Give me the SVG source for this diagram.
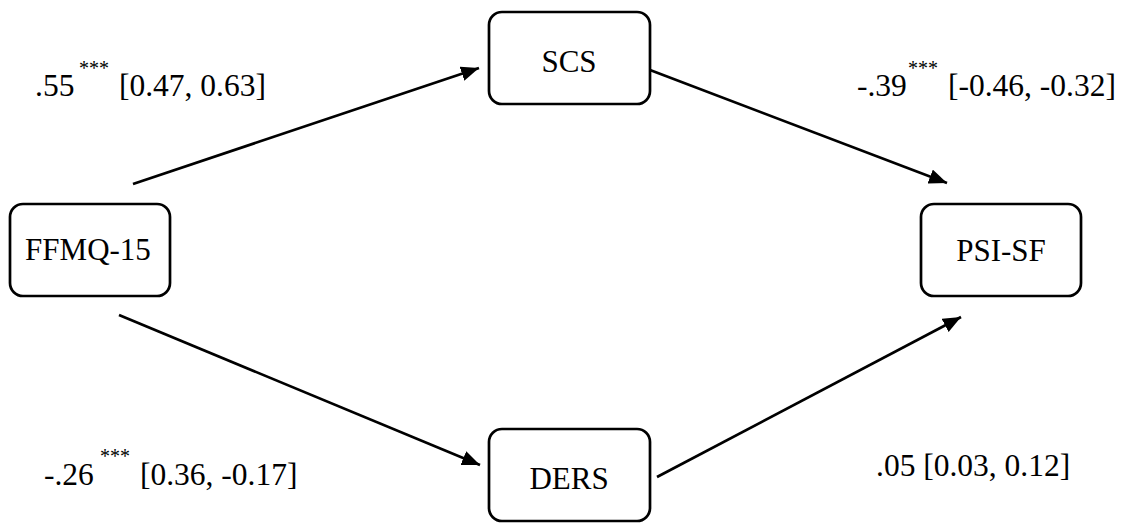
<svg xmlns="http://www.w3.org/2000/svg" width="1121" height="523" viewBox="0 0 1121 523">
<style>
.box{fill:#fff;stroke:#000;stroke-width:2.7}
.nt{font-family:"Liberation Serif","Times New Roman",serif;font-size:31px;fill:#000;text-anchor:middle}
.lb{font-family:"Liberation Serif","Times New Roman",serif;font-size:31.5px;fill:#000}
.st{font-family:"Liberation Serif","Times New Roman",serif;font-size:20px;fill:#000}
.cn{stroke:#000;stroke-width:2.7;fill:none;marker-end:url(#ah)}
</style>
<defs>
<marker id="ah" markerUnits="userSpaceOnUse" markerWidth="19" markerHeight="15" refX="18" refY="7.5" orient="auto">
<path d="M0,0 L18,7.5 L0,15 z" fill="#000"/>
</marker>
</defs>
<rect width="1121" height="523" fill="#fff"/>
<g id="connectors">
<line class="cn" x1="133" y1="184" x2="479" y2="68"/>
<line class="cn" x1="650" y1="70" x2="947" y2="183"/>
<line class="cn" x1="119" y1="315" x2="480" y2="465"/>
<line class="cn" x1="657" y1="477" x2="961" y2="317"/>
</g>
<g id="FFMQ">
<rect class="box" x="10" y="204" width="160" height="92" rx="13"/>
<text class="nt" x="88" y="260">FFMQ-15</text>
</g>
<g id="SCS">
<rect class="box" x="489" y="12" width="161" height="92" rx="13"/>
<text class="nt" x="569" y="72">SCS</text>
</g>
<g id="PSISF">
<rect class="box" x="921" y="204" width="160" height="92" rx="13"/>
<text class="nt" x="1001" y="261">PSI-SF</text>
</g>
<g id="DERS">
<rect class="box" x="489" y="429" width="161" height="92" rx="13"/>
<text class="nt" x="569" y="489">DERS</text>
</g>
<g id="labels">
<text class="lb" x="35" y="96">.55</text>
<text class="st" x="79" y="75">***</text>
<text class="lb" x="119" y="96">[0.47, 0.63]</text>
<text class="lb" x="857" y="96">-.39</text>
<text class="st" x="908" y="75">***</text>
<text class="lb" x="948" y="96">[-0.46, -0.32]</text>
<text class="lb" x="44" y="485">-.26</text>
<text class="st" x="100" y="463">***</text>
<text class="lb" x="140" y="485">[0.36, -0.17]</text>
<text class="lb" x="876" y="476">.05 [0.03, 0.12]</text>
</g>
</svg>
